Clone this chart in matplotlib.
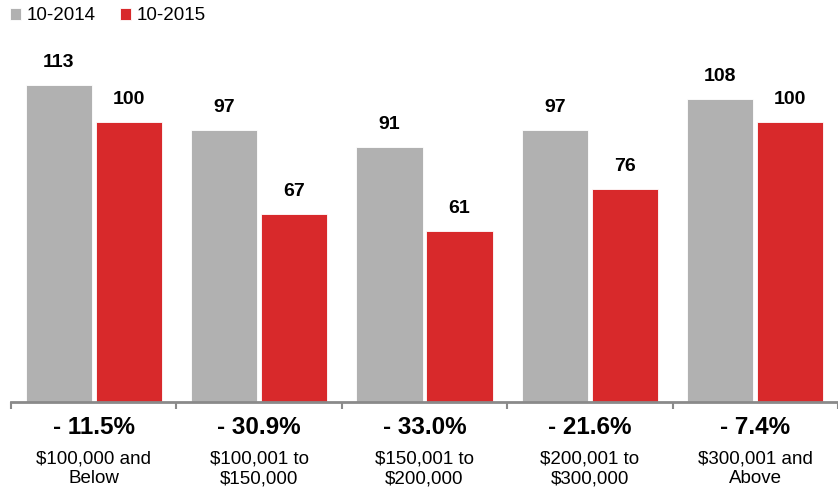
import numpy as np
import matplotlib.pyplot as plt

plt.rcParams['font.family'] = ['Liberation Sans', 'DejaVu Sans']

categories = ["$100,000 and\nBelow", "$100,001 to\n$150,000", "$150,001 to\n$200,000",
              "$200,001 to\n$300,000", "$300,001 and\nAbove"]
vals_2014 = [113, 97, 91, 97, 108]
vals_2015 = [100, 67, 61, 76, 100]
pct_change = ["- 11.5%", "- 30.9%", "- 33.0%", "- 21.6%", "- 7.4%"]
series_names = ["10-2014", "10-2015"]

gray = '#b1b1b1'
red = '#d8292b'

fig = plt.figure(figsize=(8.38, 4.88), dpi=100)
ax = fig.add_axes([11/838, 86/488, 827/838, 350.6/488])

x = np.arange(len(categories))
w = 0.40
off = 0.212
ax.bar(x - off, vals_2014, w, color=gray, edgecolor='white', linewidth=0.6, label=series_names[0])
ax.bar(x + off, vals_2015, w, color=red, edgecolor='white', linewidth=0.6, label=series_names[1])

for i in range(len(categories)):
    ax.annotate(str(vals_2014[i]), (x[i] - off, vals_2014[i]), xytext=(0, 10),
                textcoords='offset points', ha='center', va='bottom',
                fontsize=14, fontweight='bold')
    ax.annotate(str(vals_2015[i]), (x[i] + off, vals_2015[i]), xytext=(0, 10),
                textcoords='offset points', ha='center', va='bottom',
                fontsize=14, fontweight='bold')
    ax.annotate(pct_change[i], (x[i], 0), xytext=(0, -18.5), textcoords='offset points',
                ha='center', va='center', fontsize=17.5, fontweight='bold')
    ax.annotate(categories[i], (x[i], 0), xytext=(0, -35), textcoords='offset points',
                ha='center', va='top', fontsize=13.5, linespacing=1.2)

ax.set_xlim(-0.5, -0.5 + 827 / 166.75)
ax.set_ylim(0, 125)
for s in ['top', 'right', 'left']:
    ax.spines[s].set_visible(False)
ax.spines['bottom'].set_color('#8a8a8a')
ax.spines['bottom'].set_linewidth(2)
ax.set_yticks([])
ax.set_xticks(np.arange(-0.5, len(categories), 1.0))
ax.set_xticklabels([])
ax.tick_params(axis='x', direction='out', length=5, width=1.5, color='#8a8a8a')

leg = fig.legend(loc='upper left', bbox_to_anchor=(-0.004, 1.012), ncol=2, frameon=False,
                 fontsize=13.5, handlelength=0.6, handleheight=0.6, handletextpad=0.3,
                 columnspacing=1.3, borderaxespad=0.3)

fig.savefig('out.png', dpi=100)
